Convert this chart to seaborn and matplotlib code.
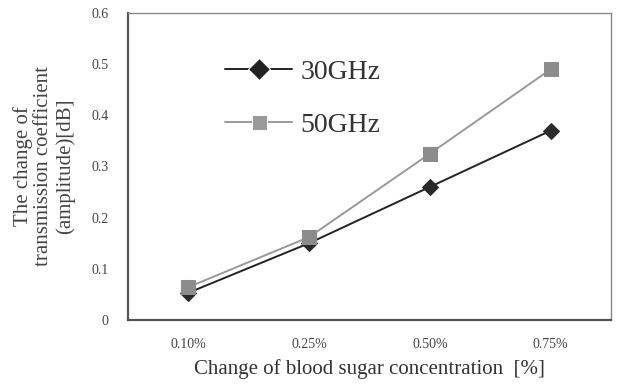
import matplotlib
matplotlib.use("Agg")
import matplotlib.pyplot as plt
import seaborn as sns
import pandas as pd

concentration = ["0.10%", "0.25%", "0.50%", "0.75%"]
ghz30 = [0.053, 0.150, 0.260, 0.370]
ghz50 = [0.064, 0.162, 0.325, 0.490]

df = pd.DataFrame({
    "conc": concentration * 2,
    "value": ghz30 + ghz50,
    "freq": ["30GHz"] * 4 + ["50GHz"] * 4,
})

sns.set_style("white")
plt.rcParams["font.family"] = ["Liberation Serif", "DejaVu Serif"]

fig = plt.figure(figsize=(6.26, 3.84), dpi=100)
ax = fig.add_axes([0.2045, 0.167, 0.7715, 0.799])

sns.lineplot(data=df, x="conc", y="value", hue="freq", style="freq",
             markers={"30GHz": "D", "50GHz": "s"}, dashes=False,
             palette={"30GHz": "#222222", "50GHz": "#999999"},
             markersize=9, linewidth=1.4, ax=ax)
for line, mfc, ms in zip(ax.lines[:2], ["#2a2a2a", "#8c8c8c"], [8, 10]):
    line.set_markerfacecolor(mfc)
    line.set_markeredgecolor(mfc)
    line.set_markersize(ms)

ax.set_xlim(-0.5, 3.5)
ax.set_ylim(0, 0.6)
ax.set_yticks([0, 0.1, 0.2, 0.3, 0.4, 0.5, 0.6])
ax.set_yticklabels(["0", "0.1", "0.2", "0.3", "0.4", "0.5", "0.6"], color="#444444", fontsize=10)
ax.set_xticks([0.5, 1.5, 2.5])
ax.set_xticklabels([])
ax.set_xticks(range(4), minor=True)
ax.set_xticklabels(concentration, minor=True, color="#444444", fontsize=10)
ax.tick_params(axis="x", which="minor", length=0, pad=13)
ax.tick_params(axis="x", which="major", direction="in", length=5, width=1, color="#444444")
ax.tick_params(axis="y", direction="in", length=4, width=1, color="#444444", pad=14)

for s in ["left", "bottom"]:
    ax.spines[s].set_color("#555555")
    ax.spines[s].set_linewidth(1.6)
for s in ["top", "right"]:
    ax.spines[s].set_color("#888888")
    ax.spines[s].set_linewidth(1.0)

ax.set_xlabel("Change of blood sugar concentration  [%]", fontsize=15, color="#333333", labelpad=6)
ax.set_ylabel("The change of\ntransmission coefficient\n(amplitude)[dB]", fontsize=15,
              color="#444444", labelpad=12, linespacing=1.1)

leg = ax.legend(loc="upper left", bbox_to_anchor=(0.15, 0.93), frameon=False,
                fontsize=20, handlelength=2.4, labelspacing=1.0, handletextpad=0.3,
                markerscale=1.2)
for t in leg.get_texts():
    t.set_color("#333333")

fig.savefig("out.png", dpi=100)
